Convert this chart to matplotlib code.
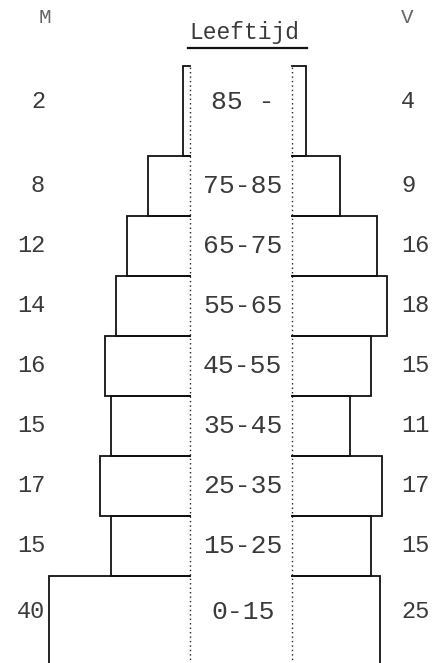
import matplotlib.pyplot as plt

# --- DATA ---
age_labels = ['0-15', '15-25', '25-35', '35-45', '45-55', '55-65', '65-75', '75-85', '85 -']
age_lo = [0, 15, 25, 35, 45, 55, 65, 75, 85]
age_hi = [15, 25, 35, 45, 55, 65, 75, 85, 100]
men = [40, 15, 17, 15, 16, 14, 12, 8, 2]
women = [25, 15, 17, 11, 15, 18, 16, 9, 4]

# --- STYLE ---
TYPE_FONT = 'Liberation Mono'
INK = '#111111'
TEXT = '#3a3a3a'
GAP = 9.6  # half width of the centre column, in count units

fig = plt.figure(figsize=(4.34, 6.63), dpi=100)
ax = fig.add_axes([0, 0, 1, 1])
ax.set_xlim(-45.5, 36.4)
ax.set_ylim(0.5, 111)
ax.axis('off')

for lo, hi, m, v, lab in zip(age_lo, age_hi, men, women, age_labels):
    # bar width = count per 10 years of age (histogram density)
    dm = m * 10 / (hi - lo)
    dv = v * 10 / (hi - lo)
    ax.plot([-GAP, -GAP - dm, -GAP - dm, -GAP], [hi, hi, lo, lo],
            color=INK, lw=1.3, solid_joinstyle='miter')
    ax.plot([GAP, GAP + dv, GAP + dv, GAP], [hi, hi, lo, lo],
            color=INK, lw=1.3, solid_joinstyle='miter')
    # the wider (15 year) rows carry their labels a bit higher
    yc = lo + (0.6 if hi - lo > 10 else 0.5) * (hi - lo)
    ax.text(0.3, yc, lab, ha='center', va='center', fontsize=19,
            family=TYPE_FONT, color=TEXT)
    ax.text(-37.0, yc, str(m), ha='right', va='center', fontsize=17,
            family=TYPE_FONT, color=TEXT)
    ax.text(30.2, yc, str(v), ha='left', va='center', fontsize=17,
            family=TYPE_FONT, color=TEXT)

# dotted column borders
for x in (-GAP, GAP):
    ax.plot([x, x], [0, max(age_hi)], color='#222222', lw=1.0,
            linestyle=(0, (1, 2.2)))

# header
ax.text(0.6, 105.5, 'Leeftijd', ha='center', va='center', fontsize=16.5,
        family=TYPE_FONT, color=TEXT)
ax.plot([-10.0, 12.4], [103.0, 103.0], color=INK, lw=1.6)
ax.text(-37.0, 108.0, 'M', ha='center', va='center', fontsize=15,
        family=TYPE_FONT, color='#666666')
ax.text(31.3, 108.0, 'V', ha='center', va='center', fontsize=15,
        family=TYPE_FONT, color='#666666')

fig.savefig('out.png', dpi=100, facecolor='white')
